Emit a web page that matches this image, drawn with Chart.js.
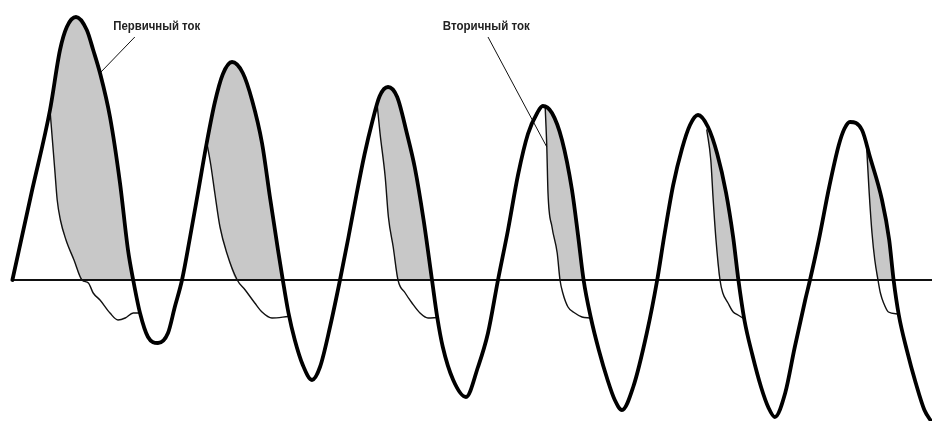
<!DOCTYPE html>
<html lang="ru">
<head>
<meta charset="utf-8">
<title>Первичный и вторичный ток</title>
<script src="https://cdn.jsdelivr.net/npm/chart.js@4.4.1/dist/chart.umd.min.js"></script>
<style>
  html, body { margin: 0; padding: 0; background: #fff; }
  #wrap { width: 932px; height: 421px; }
</style>
</head>
<body>
<div id="wrap"><canvas id="currentChart" width="932" height="421"></canvas></div>
<script>
// время, мс / ток, % (пары [t, i])
const primaryCurrent = [
  [0.3, 0], [2.7, 35], [5, 68], [6.25, 92], [7.1, 101.2], [8.25, 105.2], [9.6, 100], [10.4, 92],
  [11.25, 82.8], [12.5, 65.2], [13.75, 38.8], [14.75, 12], [15.4, 0], [16.25, -13.2], [17.25, -22.8],
  [18.5, -25.2], [19.75, -21.2], [20.6, -10.8], [21.5, 0], [22.5, 17], [23.5, 35], [24.6, 55],
  [25.6, 71], [26.6, 82.3], [27.75, 87.2], [29.1, 82.8], [30.25, 72], [31.5, 54.8], [32.5, 33],
  [33.5, 12], [34.1, 0], [34.8, -13], [35.6, -24], [36.6, -34], [37.75, -40], [38.75, -34.8],
  [40, -18.8], [41.25, 0], [42.3, 17], [43.3, 34], [44.3, 50], [45.3, 63.5], [46.2, 73.5],
  [47.25, 77.2], [48.4, 73.2], [49.6, 58.8], [50.6, 45], [51.7, 24], [52.75, 0],
  [53.4, -14.8], [54.1, -26.8], [55.4, -40], [57, -46.8], [58.5, -34.8], [59.75, -21.2], [61, 0],
  [62.25, 20], [63.5, 42], [64.75, 58.5], [65.9, 66.8], [66.6, 69.6], [67.75, 66.8], [69, 56],
  [70.25, 36], [71, 18], [71.7, 0], [72.6, -15], [73.6, -28], [74.7, -40], [75.6, -48], [76.5, -52],
  [77.9, -42.8], [79.6, -21.2], [80.9, 0], [81.8, 18], [82.9, 38], [84, 52.5], [85, 62],
  [86, 66], [87.25, 61.2], [88.4, 50.5], [89.5, 35], [90.4, 17], [91.05, 0], [91.8, -16],
  [92.8, -30], [93.9, -43], [94.8, -51], [95.6, -54.8], [96.9, -45.2], [98.1, -26.8], [99.4, -8], [100, 0],
  [101.1, 16], [102.4, 37.2], [103.6, 54], [104.3, 60.5], [105, 63.2], [106.5, 60], [107.5, 49.2], [109, 32],
  [109.9, 16], [110.45, 0], [111.1, -14], [112.1, -28], [113.2, -41], [114.3, -52], [115.25, -57]
];

// вторичный ток по периодам (от точки расхождения до возврата на первичный)
const secondary1 = [[5, 68], [5.3, 56], [5.6, 44], [5.9, 32], [6.3, 24], [7, 16], [8, 8], [9, 0],
  [9.8, -1.2], [10.4, -5.2], [11.25, -8], [12.5, -13.2], [13.5, -16], [14.4, -15.2], [15.4, -13.2], [16.25, -13.2]];
const secondary2 = [[24.6, 55], [25.1, 46], [25.6, 34.8], [26.25, 21.2], [27.1, 10.8], [28.4, 0],
  [29.4, -4], [30.6, -9.2], [31.5, -12.8], [32.75, -15.2], [34.75, -14.6]];
const secondary3 = [[45.9, 70], [46.25, 58.8], [46.9, 41.2], [47.3, 25.2], [47.9, 13.2], [48.5, 0],
  [49.4, -5.2], [50.25, -9.2], [51.25, -13.2], [52.25, -15.2], [53.4, -15]];
const secondary4 = [[66.9, 69], [67.1, 53.2], [67.25, 34.8], [67.75, 21.2], [68.4, 10.8], [68.75, 0],
  [69.1, -5.2], [69.75, -10.8], [70.6, -13.2], [71.5, -14.8], [72.5, -15.2]];
const secondary5 = [[87.1, 60], [87.6, 48], [87.9, 32], [88.25, 16], [88.75, 0],
  [89.1, -5.2], [89.75, -9.2], [90.4, -12.8], [91, -14], [91.8, -15.6]];
const secondary6 = [[107.1, 52], [107.4, 34.8], [107.75, 18.8], [108.1, 8], [108.5, 0],
  [108.8, -5.2], [109.2, -9.2], [109.8, -12.8], [111, -13.6]];

const zeroLine = [[0.25, 0], [115.25, 0]];

// выноски подписей
const captionText = ['Первичный ток', 'Вторичный ток'];
const captionAnchor = [[12.9, 100], [54.1, 100]];
const leaderPrimary = [[11.25, 82.8], [15.6, 97.2]];
const leaderSecondary = [[59.75, 97.2], [67.1, 53.2]];

const secondaryCycles = [secondary1, secondary2, secondary3, secondary4, secondary5, secondary6];

const toPoints = arr => arr.map(p => ({ x: p[0], y: p[1] }));

const curve = {
  pointRadius: 0,
  borderJoinStyle: 'round',
  borderCapStyle: 'round',
  cubicInterpolationMode: 'monotone',
  fill: false
};
const straight = { pointRadius: 0, tension: 0, fill: false, borderColor: '#111' };

const datasets = [
  { ...curve, label: 'Первичный ток', data: toPoints(primaryCurrent), borderColor: '#000', borderWidth: 3.8 }
];
secondaryCycles.forEach(c => {
  datasets.push({ ...curve, label: 'Вторичный ток', data: toPoints(c), borderColor: '#111', borderWidth: 1.4 });
});
datasets.push({ ...straight, data: toPoints(zeroLine), borderWidth: 1.8 });
datasets.push({ ...straight, data: toPoints(leaderPrimary), borderWidth: 1 });
datasets.push({ ...straight, data: toPoints(leaderSecondary), borderWidth: 1 });
// серая заливка между первичным и вторичным током выше нуля
secondaryCycles.forEach(c => {
  datasets.push({
    ...curve,
    data: toPoints(c.map(p => [p[0], Math.max(p[1], 0)])),
    borderWidth: 0,
    borderColor: 'rgba(0,0,0,0)',
    fill: { target: 0, above: 'rgba(0,0,0,0)', below: '#c8c8c8' }
  });
});

const captions = {
  id: 'captions',
  afterDatasetsDraw(chart) {
    const { ctx, scales: { x, y } } = chart;
    ctx.save();
    ctx.font = 'bold 12.4px "Liberation Sans", Arial, sans-serif';
    ctx.fillStyle = '#222';
    ctx.textBaseline = 'alphabetic';
    captionText.forEach((t, i) => {
      ctx.fillText(t, x.getPixelForValue(captionAnchor[i][0]), y.getPixelForValue(captionAnchor[i][1]), 87);
    });
    ctx.restore();
  }
};

new Chart(document.getElementById('currentChart'), {
  type: 'line',
  data: { datasets },
  options: {
    responsive: false,
    animation: false,
    events: [],
    layout: { padding: 0 },
    plugins: { legend: { display: false }, tooltip: { enabled: false } },
    scales: {
      x: { type: 'linear', min: -1.25, max: 115.25, display: false },
      y: { type: 'linear', min: -56.4, max: 112, display: false }
    }
  },
  plugins: [captions]
});
</script>
</body>
</html>
